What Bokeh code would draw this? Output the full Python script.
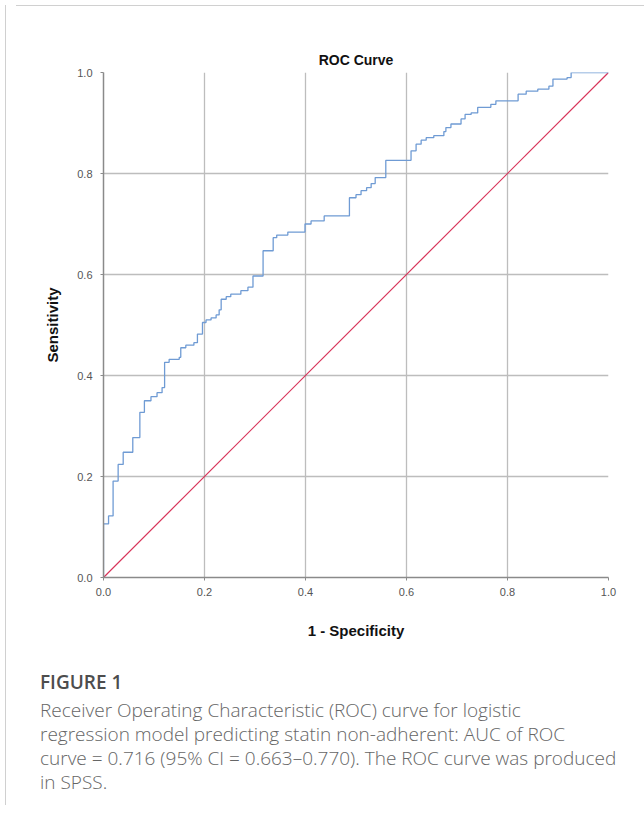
from bokeh.plotting import figure
from bokeh.models import Range1d, FixedTicker, Div, ColumnDataSource
from bokeh.layouts import column, row
from bokeh.embed import file_html
from bokeh.resources import INLINE

# ---- data ----
fpr = [0.000, 0.000, 0.010, 0.019, 0.029, 0.039, 0.058, 0.072, 0.081, 0.094,
       0.106, 0.116, 0.121, 0.130, 0.150, 0.153, 0.163, 0.179, 0.186, 0.196,
       0.203, 0.213, 0.223, 0.229, 0.233, 0.243, 0.252, 0.272, 0.286, 0.296,
       0.316, 0.336, 0.343, 0.365, 0.399, 0.411, 0.437, 0.487, 0.500, 0.510,
       0.521, 0.530, 0.538, 0.559, 0.609, 0.619, 0.629, 0.639, 0.654, 0.674,
       0.678, 0.688, 0.708, 0.716, 0.728, 0.741, 0.767, 0.777, 0.821, 0.837,
       0.860, 0.882, 0.890, 0.918, 0.926, 1.000]
tpr = [0.000, 0.106, 0.122, 0.191, 0.224, 0.248, 0.277, 0.327, 0.350, 0.358,
       0.366, 0.376, 0.426, 0.432, 0.436, 0.455, 0.460, 0.465, 0.482, 0.505,
       0.510, 0.514, 0.520, 0.530, 0.551, 0.556, 0.561, 0.568, 0.575, 0.597,
       0.647, 0.673, 0.678, 0.684, 0.700, 0.706, 0.716, 0.752, 0.758, 0.766,
       0.772, 0.780, 0.792, 0.826, 0.845, 0.858, 0.866, 0.871, 0.875, 0.883,
       0.891, 0.898, 0.908, 0.917, 0.920, 0.931, 0.937, 0.944, 0.957, 0.963,
       0.967, 0.973, 0.987, 0.990, 1.000, 1.000]
ref_x = [0.0, 1.0]
ref_y = [0.0, 1.0]

tick_values = [0.0, 0.2, 0.4, 0.6, 0.8, 1.0]
tick_labels = ["0.0", "0.2", "0.4", "0.6", "0.8", "1.0"]

title_text = "ROC Curve"
x_label = "1 - Specificity"
y_label = "Sensitivity"
fig_label = "FIGURE 1"
caption_lines = [
    "Receiver Operating Characteristic (ROC) curve for logistic",
    "regression model predicting statin non-adherent: AUC of ROC",
    "curve = 0.716 (95% CI = 0.663\u20130.770). The ROC curve was produced",
    "in SPSS.",
]

FONT = "Liberation Sans"

p = figure(width=634, height=652, output_backend="svg", toolbar_location=None,
           x_range=Range1d(0, 1), y_range=Range1d(0, 1),
           min_border_left=92, min_border_right=37, min_border_top=61,
           min_border_bottom=86, title=title_text)
p.background_fill_color = "white"
p.border_fill_color = "white"
p.outline_line_color = None

p.title.align = "center"
p.title.text_font = FONT
p.title.text_font_size = "14px"
p.title.text_font_style = "bold"
p.title.text_color = "#111111"
p.title.standoff = 9

for ax in (p.xaxis[0], p.yaxis[0]):
    ax.ticker = FixedTicker(ticks=tick_values)
    ax.major_label_overrides = {v: s for v, s in zip(tick_values, tick_labels)}
    ax.major_label_text_font = FONT
    ax.major_label_text_font_size = "11px"
    ax.major_label_text_color = "#555555"
    ax.axis_line_color = "#8a8a8a"
    ax.axis_line_width = 1.5
    ax.major_tick_line_color = "#8a8a8a"
    ax.major_tick_out = 3
    ax.major_tick_in = 0
    ax.minor_tick_line_color = None
    ax.axis_label_text_font = FONT
    ax.axis_label_text_font_style = "bold"
    ax.axis_label_text_font_size = "15px"
    ax.axis_label_text_color = "#111111"

p.xaxis.axis_label = x_label
p.yaxis.axis_label = y_label
p.xaxis.major_label_standoff = 7
p.xaxis.axis_label_standoff = 23
p.yaxis.major_label_standoff = 8
p.yaxis.axis_label_standoff = 13

p.grid.ticker = FixedTicker(ticks=tick_values)
p.grid.grid_line_color = "#bdbdbd"
p.grid.grid_line_width = 1.3

p.line(ref_x, ref_y, line_color="#d8345a", line_width=1.2)
src = ColumnDataSource(dict(x=fpr, y=tpr))
p.step("x", "y", source=src, mode="after", line_color="#6f9bd4", line_width=1.3)

cap_html = (
    '<div style="padding-left:24px;padding-top:2px;font-family:\'Open Sans\';'
    'white-space:nowrap;">'
    '<div style="font-size:19px;font-weight:600;color:#4d4d4d;line-height:24px;">'
    + fig_label + '</div>'
    '<div style="margin-top:4px;font-size:19px;font-weight:300;color:#666666;line-height:24px;">'
    + "<br>".join(caption_lines) + '</div></div>'
)
cap = Div(text=cap_html, width=634, height=145)

top_bar = Div(text="", width=634, height=1, styles={"background-color": "#d0d0d0"})
left_bar = Div(text="", width=1, height=800, styles={"background-color": "#d0d0d0"})

layout = row(left_bar, column(top_bar, p, cap))

open("out.html", "w").write(file_html(layout, INLINE))
